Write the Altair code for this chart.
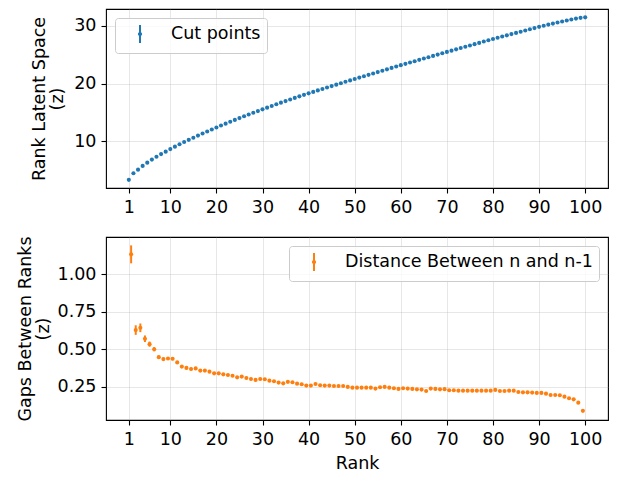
import altair as alt
import pandas as pd

# ---- data ----
ranks = list(range(1, 101))
cut_points = [3.30, 4.43, 5.06, 5.71, 6.28, 6.81, 7.31, 7.76, 8.19, 8.63,
              9.06, 9.48, 9.86, 10.24, 10.60, 10.98, 11.33, 11.69, 12.04, 12.38,
              12.72, 13.05, 13.38, 13.70, 14.01, 14.33, 14.64, 14.94, 15.23, 15.53,
              15.83, 16.12, 16.41, 16.69, 16.96, 17.24, 17.52, 17.79, 18.05, 18.31,
              18.56, 18.82, 19.07, 19.32, 19.57, 19.82, 20.07, 20.32, 20.56, 20.80,
              21.04, 21.28, 21.52, 21.76, 22.00, 22.24, 22.48, 22.72, 22.96, 23.20,
              23.43, 23.66, 23.89, 24.12, 24.35, 24.58, 24.81, 25.04, 25.27, 25.50,
              25.72, 25.95, 26.17, 26.40, 26.62, 26.85, 27.07, 27.30, 27.52, 27.75,
              27.96, 28.17, 28.38, 28.59, 28.80, 29.01, 29.22, 29.43, 29.64, 29.85,
              30.05, 30.24, 30.42, 30.61, 30.79, 30.96, 31.12, 31.28, 31.42, 31.50]

gap_positions = [r + 0.5 for r in range(1, 100)]
gaps = [1.134, 0.628, 0.643, 0.570, 0.534, 0.500, 0.447, 0.434, 0.438, 0.436,
        0.412, 0.384, 0.375, 0.368, 0.372, 0.357, 0.357, 0.350, 0.339, 0.339,
        0.332, 0.328, 0.323, 0.312, 0.317, 0.308, 0.301, 0.295, 0.301, 0.299,
        0.290, 0.286, 0.277, 0.272, 0.282, 0.279, 0.270, 0.266, 0.257, 0.257,
        0.268, 0.259, 0.257, 0.257, 0.254, 0.254, 0.254, 0.248, 0.243, 0.243,
        0.243, 0.243, 0.243, 0.237, 0.246, 0.248, 0.243, 0.239, 0.235, 0.239,
        0.237, 0.235, 0.232, 0.230, 0.221, 0.237, 0.235, 0.232, 0.233, 0.226,
        0.226, 0.223, 0.223, 0.223, 0.223, 0.223, 0.223, 0.223, 0.223, 0.228,
        0.221, 0.221, 0.223, 0.223, 0.214, 0.212, 0.212, 0.210, 0.208, 0.208,
        0.203, 0.194, 0.194, 0.192, 0.183, 0.172, 0.165, 0.143, 0.088]
gap_err = [0.060, 0.032, 0.029, 0.022, 0.017, 0.014, 0.011, 0.010, 0.010, 0.010,
           0.009, 0.009, 0.009, 0.009, 0.009, 0.009, 0.009, 0.009, 0.009, 0.009,
           0.008, 0.008, 0.008, 0.008, 0.008, 0.008, 0.008, 0.008, 0.008, 0.008,
           0.008, 0.008, 0.008, 0.008, 0.008, 0.008, 0.008, 0.008, 0.008, 0.008,
           0.007, 0.007, 0.007, 0.007, 0.007, 0.007, 0.007, 0.007, 0.007, 0.007,
           0.007, 0.007, 0.007, 0.007, 0.007, 0.007, 0.007, 0.007, 0.007, 0.007,
           0.007, 0.007, 0.007, 0.007, 0.007, 0.007, 0.007, 0.007, 0.007, 0.007,
           0.007, 0.007, 0.007, 0.007, 0.007, 0.007, 0.007, 0.007, 0.007, 0.007,
           0.007, 0.007, 0.007, 0.007, 0.007, 0.007, 0.007, 0.007, 0.007, 0.007,
           0.007, 0.007, 0.007, 0.007, 0.007, 0.007, 0.007, 0.007, 0.007]
x_ticks = [1, 10, 20, 30, 40, 50, 60, 70, 80, 90, 100]
top_y_ticks = [10, 20, 30]
bottom_y_ticks = [0.25, 0.50, 0.75, 1.00]
top_label = "Cut points"
bottom_label = "Distance Between n and n-1"

BLUE = "#1f77b4"
ORANGE = "#ff7f0e"
FONT = "DejaVu Sans"
FS = 17.5
ERRPATH = "M0,-1V1M-0.12,0A0.12,0.12,0,1,0,0.12,0A0.12,0.12,0,1,0,-0.12,0Z"

top_df = pd.DataFrame({"rank": ranks, "z": cut_points, "series": top_label})
bot_df = pd.DataFrame({
    "rank": gap_positions,
    "z": gaps,
    "lo": [g - e for g, e in zip(gaps, gap_err)],
    "hi": [g + e for g, e in zip(gaps, gap_err)],
    "series": bottom_label,
})

xscale = alt.Scale(domain=[-3.95, 104.95], nice=False, zero=False)


def make_legend(orient, color):
    return alt.Legend(
        title=None, orient=orient, offset=9,
        symbolType=ERRPATH, symbolSize=324, symbolStrokeWidth=2,
        symbolFillColor=color, symbolStrokeColor=color, symbolOffset=9,
        labelFontSize=FS, labelFont=FONT, labelColor="black", labelOffset=21,
        labelLimit=400, padding=6,
        fillColor="rgba(255,255,255,0.8)", strokeColor="#cccccc", cornerRadius=3,
    )


top_color = alt.Color("series:N", scale=alt.Scale(domain=[top_label], range=[BLUE]),
                      legend=make_legend("top-left", BLUE))
top = alt.Chart(top_df).mark_point(filled=True, shape="circle", size=17, opacity=1).encode(
    x=alt.X("rank:Q", scale=xscale,
            axis=alt.Axis(values=x_ticks, title=None)),
    y=alt.Y("z:Q", scale=alt.Scale(domain=[1.88, 32.95], nice=False, zero=False),
            axis=alt.Axis(values=top_y_ticks, title=["Rank Latent Space", "(z)"],
                          minExtent=32, maxExtent=32, titlePadding=8)),
    color=top_color,
).properties(width=502, height=179)

bot_color = alt.Color("series:N", scale=alt.Scale(domain=[bottom_label], range=[ORANGE]),
                      legend=make_legend("top-right", ORANGE))
bx = alt.X("rank:Q", scale=xscale, axis=alt.Axis(values=x_ticks, title="Rank", titlePadding=7))
by_scale = alt.Scale(domain=[0.027, 1.25], nice=False, zero=False)
bars = alt.Chart(bot_df).mark_rule(strokeWidth=2).encode(
    x=bx,
    y=alt.Y("lo:Q", scale=by_scale,
            axis=alt.Axis(values=bottom_y_ticks, format=".2f",
                          title=["Gaps Between Ranks", "(z)"],
                          minExtent=48, maxExtent=48, titlePadding=6)),
    y2="hi:Q",
    color=bot_color,
)
dots = alt.Chart(bot_df).mark_point(filled=True, shape="circle", size=17, opacity=1).encode(
    x=bx,
    y=alt.Y("z:Q", scale=by_scale),
    color=bot_color,
)
bottom = alt.layer(bars, dots).properties(width=502, height=183)

chart = alt.vconcat(top, bottom, spacing=49, bounds="flush").resolve_scale(
    color="independent"
).resolve_legend(color="independent").properties(
    padding={"left": 7, "top": 0, "right": 0, "bottom": 0}
).configure(
    font=FONT,
).configure_view(
    stroke="black", strokeWidth=1.1
).configure_axis(
    labelFont=FONT, labelFontSize=FS, labelColor="black",
    titleFont=FONT, titleFontSize=FS, titleFontWeight="normal", titleColor="black",
    titleLineHeight=18,
    tickColor="black", tickSize=5, tickWidth=1.1, labelPadding=5,
    domain=False, gridColor="#b0b0b0", gridOpacity=0.3, gridWidth=1,
)

chart.save("out.html", embed_options={"renderer": "svg", "actions": False})
